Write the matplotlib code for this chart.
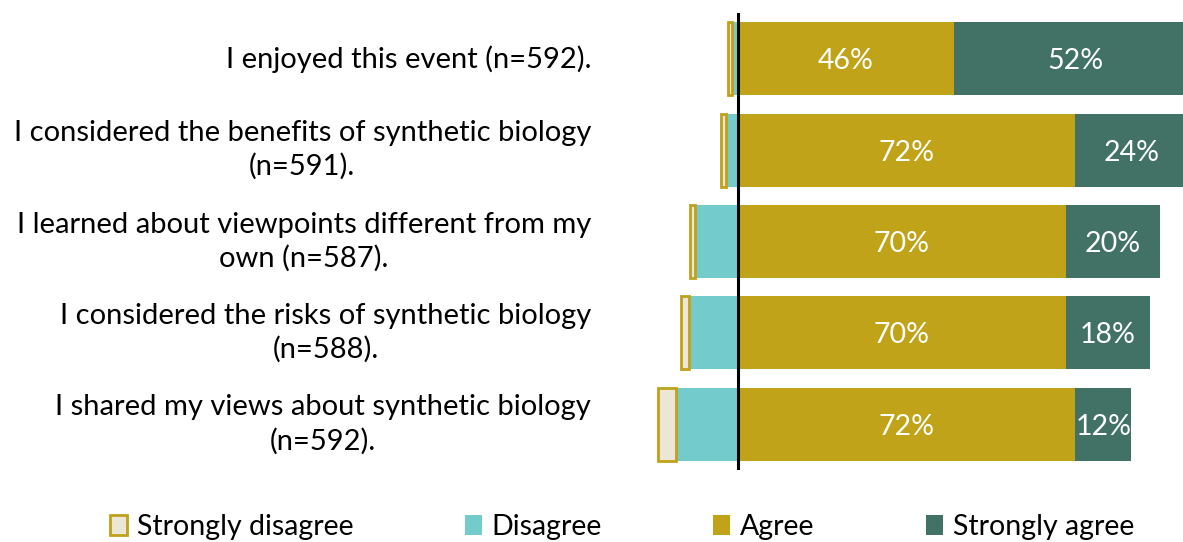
import matplotlib.pyplot as plt
from matplotlib.patches import Patch

plt.rcParams['font.family'] = ['Lato', 'DejaVu Sans']

labels = [
    'I enjoyed this event (n=592).',
    'I considered the benefits of synthetic biology\n(n=591).',
    'I learned about viewpoints different from my\nown (n=587).',
    'I considered the risks of synthetic biology\n(n=588).',
    'I shared my views about synthetic biology\n(n=592).',
]
strongly_disagree = [0.9, 1.0, 1.0, 1.6, 3.7]
disagree = [1.3, 2.6, 9.2, 10.5, 13.3]
agree = [46, 72, 70, 70, 72]
strongly_agree = [52, 24, 20, 18, 12]

c_sd = '#ECE6D6'
c_sd_edge = '#C0A11A'
c_d = '#74CBCB'
c_a = '#C0A318'
c_sa = '#427266'

fs = 20.5

fig = plt.figure(figsize=(11.83, 5.42), dpi=100)
ax = fig.add_axes([640 / 1183, 1 - 470 / 542, (1183 - 640) / 1183, (470 - 13) / 542])

y = list(range(len(labels)))
h = 0.8

# negative side
ax.barh(y, [-d for d in disagree], height=h, color=c_d)
left_sd = [-d - s for d, s in zip(disagree, strongly_disagree)]
ax.barh(y, strongly_disagree, left=left_sd, height=h, color=c_sd,
        edgecolor=c_sd_edge, linewidth=2)

# positive side
ax.barh(y, agree, height=h, color=c_a)
ax.barh(y, strongly_agree, left=agree, height=h, color=c_sa)

for i in y:
    ax.text(agree[i] / 2, i, f'{agree[i]}%', ha='center', va='center_baseline',
            color='white', fontsize=fs)
    ax.text(agree[i] + strongly_agree[i] / 2, i, f'{strongly_agree[i]}%',
            ha='center', va='center_baseline', color='white', fontsize=fs)
    ax.text(-49 / 543, i, labels[i], transform=ax.get_yaxis_transform(),
            ha='right', va='center', multialignment='center',
            fontsize=21, linespacing=1.32)

ax.axvline(0, color='black', linewidth=2.2)
ax.set_xlim(-98 / 4.68, 95)
ax.set_ylim(len(labels) - 0.5, -0.5)
ax.axis('off')

handles = [
    Patch(facecolor=c_sd, edgecolor=c_sd_edge, linewidth=2, label='Strongly disagree'),
    Patch(facecolor=c_d, label='Disagree'),
    Patch(facecolor=c_a, label='Agree'),
    Patch(facecolor=c_sa, label='Strongly agree'),
]
fig.legend(handles=handles, loc='center', bbox_to_anchor=(622 / 1183, 1 - 527 / 542),
           ncol=4, frameon=False, fontsize=fs, handlelength=0.6, handleheight=0.7,
           handletextpad=0.35, columnspacing=3.9, borderaxespad=0, borderpad=0)

fig.savefig('out.png', dpi=100)
